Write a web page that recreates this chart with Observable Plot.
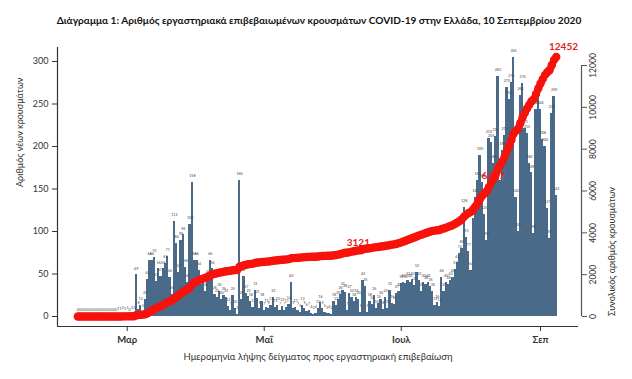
<!DOCTYPE html>
<html><head><meta charset="utf-8">
<script src="https://cdn.jsdelivr.net/npm/d3@7"></script>
<script src="https://cdn.jsdelivr.net/npm/@observablehq/plot@0.6"></script>
<style>
body{margin:0;background:#fff;font-family:Lato,"Open Sans",sans-serif;}
#title{height:38px;width:632px;display:flex;align-items:center;justify-content:center;font-weight:bold;font-size:10.1px;color:#111;padding-left:6px;padding-top:2px;box-sizing:border-box;white-space:nowrap}
</style></head><body>
<div id="title">Διάγραμμα 1: Αριθμός εργαστηριακά επιβεβαιωμένων κρουσμάτων COVID-19 στην Ελλάδα, 10 Σεπτεμβρίου 2020</div>
<div id="chart"></div>
<script>
// first sampling date of the series
const startDate = "2020-02-08";
// daily new laboratory-confirmed cases by sampling date
const dailyCases = [
  0,0,0,0,0,0,0,0,0,0,0,0,0,0,0,0,0,0,
  1,1,2,1,3,0,3,3,
  49,
  8,13,5,20,44,66,66,70,41,56,47,56,62,71,46,26,112,86,52,90,96,58,40,108,158,66,66,54,38,39,30,45,66,56,26,22,30,20,25,22,12,7,25,10,2,
  160,
  20,47,27,23,18,11,31,21,9,18,7,
  11,9,13,22,11,13,7,12,7,11,14,40,9,11,7,5,13,9,6,7,4,2,4,10,16,9,5,3,4,2,18,13,20,26,31,28,7,27,22,18,22,
  20,5,42,35,5,18,14,25,10,15,20,8,22,10,31,15,14,27,30,39,
  40,39,42,40,43,37,52,42,30,40,38,40,35,30,13,16,12,46,30,40,38,42,46,55,63,74,80,128,93,77,
  54,115,140,160,190,158,120,90,210,205,180,212,282,160,195,213,270,255,275,305,140,100,
  260,274,221,215,180,169,98,244,262,244,208,200,127,92,239,259,142
];
const leftTicks = [0,50,100,150,200,250,300];
const rightTicks = [0,2000,4000,6000,8000,10000,12000];
const monthTicks = ["2020-03-01","2020-05-01","2020-07-01","2020-09-01"];
const monthLabels = ["Μαρ","Μαΐ","Ιουλ","Σεπ"];
const cumLabelDates = ["2020-06-11","2020-08-10","2020-09-09"];
const cumLabelTexts = ["3121","6327","12452"];

const k = 295.29/12000; // right-axis units -> left-axis units
const xDomain = [new Date("2020-01-29T23:17Z"), new Date("2020-09-17T21:36Z")];
const yDomain = [-11.76, 316.47];

const data = dailyCases.map((v,i)=>({date: d3.utcDay.offset(new Date(startDate+"T00:00Z"), i), value: v}));
const cum = d3.cumsum(dailyCases);
const cumData = data.map((d,i)=>({date: d.date, cum: cum[i]}));
const mt = monthTicks.map(s=>new Date(s+"T00:00Z"));
const labels = cumLabelDates.map((s,i)=>({date:new Date(s+"T00:00Z"), text: cumLabelTexts[i], v: +cumLabelTexts[i]}));
const red = "#f7120c";

const chart = Plot.plot({
  width: 632, height: 341,
  marginLeft: 57, marginRight: 54, marginTop: 9, marginBottom: 53,
  x: {type: "utc", domain: xDomain},
  y: {domain: yDomain},
  style: {fontFamily: "Lato, 'Open Sans', sans-serif", background: "white", overflow: "visible", color: "#333"},
  marks: [
    Plot.rectY(data, {x1: d=>d3.utcHour.offset(d.date,-12), x2: d=>d3.utcHour.offset(d.date,13), y1: 0, y2: "value", fill: "#4a6a8a", shapeRendering: "crispEdges"}),
    Plot.text(data, {x: "date", y: "value", text: d=>String(d.value), fontSize: 3.6, dy: -6.5, fill: "#444"}),
    Plot.ruleX([xDomain[0]], {stroke: "#333", strokeWidth: 1.2}),
    Plot.ruleY([yDomain[0]], {stroke: "#333", strokeWidth: 1.2}),
    Plot.axisX(mt, {tickFormat: d=>monthLabels[mt.findIndex(t=>+t===+d)], tickSize: 5, tickPadding: 5, fontSize: 9.5, fontWeight: "bold", label: null, stroke: "#333"}),
    Plot.axisY(leftTicks, {tickSize: 5, tickPadding: 4, fontSize: 9, label: null, stroke: "#333"}),
    Plot.ruleX([xDomain[1]], {y1: 0, y2: 12000*k, dx: 3, stroke: "#555", strokeWidth: 1.2}),
    Plot.axisY(rightTicks.map(v=>v*k), {anchor: "right", dx: 3, tickSize: 5, tickFormat: ()=>"", label: null, stroke: "#555"}),
    Plot.text(rightTicks, {x: xDomain[1], y: v=>v*k, text: v=>String(v), rotate: -90, dx: 15, fontSize: 8.5, fill: "#333"}),
    Plot.text(["Αριθμός νέων κρουσμάτων"], {frameAnchor: "left", dx: -37, rotate: -90, fontSize: 9, fill: "#333"}),
    Plot.text(["Συνολικός αριθμός κρουσμάτων"], {frameAnchor: "right", dx: 34, rotate: -90, fontSize: 9, fill: "#333"}),
    Plot.text(["Ημερομηνία λήψης δείγματος προς εργαστηριακή επιβεβαίωση"], {frameAnchor: "bottom", dy: 33, fontSize: 9.5, fill: "#333"}),
    Plot.text(labels.slice(0,2), {x: "date", y: d=>d.v*k, text: "text", dx: 2, dy: -8, fill: "#e3231b", fontWeight: "bold", fontSize: 10}),
    Plot.line(cumData, {x: "date", y: d=>d.cum*k, stroke: red, strokeWidth: 7}),
    Plot.dot(cumData, {x: "date", y: d=>d.cum*k, r: 4.2, fill: red}),
    Plot.text(labels.slice(2), {x: "date", y: d=>d.v*k, text: "text", dx: 5, dy: -9, fill: "#e3231b", fontWeight: "bold", fontSize: 10})
  ]
});
document.getElementById("chart").appendChild(chart);
</script>
</body></html>
